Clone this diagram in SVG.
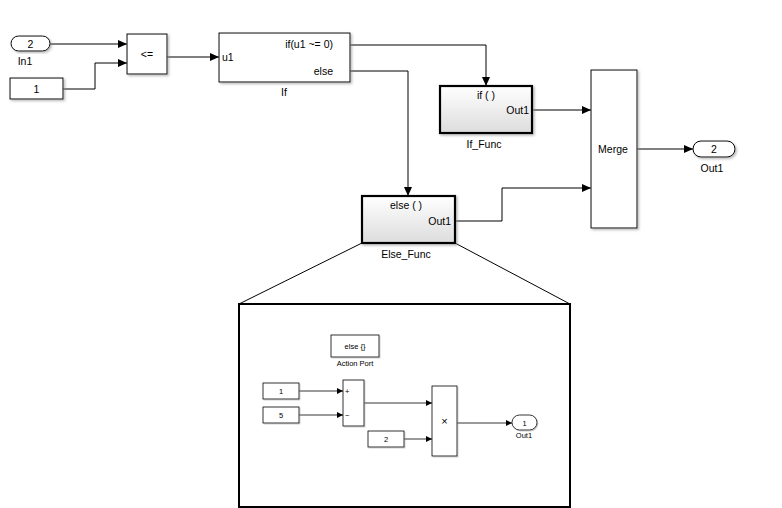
<svg xmlns="http://www.w3.org/2000/svg" width="782" height="508" viewBox="0 0 782 508">
<style>
.blk{fill:#fff;stroke:#000;stroke-width:1;filter:url(#sh)}
.sub{fill:url(#grad);stroke:#000;stroke-width:2.2;filter:url(#sh)}
.t{font-family:"Liberation Sans",Arial,sans-serif;font-size:10.5px;fill:#000}
.ts{font-family:"Liberation Sans",Arial,sans-serif;font-size:7.5px;fill:#000}
.c{text-anchor:middle}
.e{text-anchor:end}
.w{fill:none;stroke:#000;stroke-width:1}
.wa{fill:none;stroke:#000;stroke-width:1;marker-end:url(#arr)}
.was{fill:none;stroke:#000;stroke-width:0.8;marker-end:url(#arrs)}
.bs{fill:#fff;stroke:#000;stroke-width:0.8;filter:url(#sh2)}
</style>
<defs>
<linearGradient id="grad" x1="0" y1="0" x2="0" y2="1">
<stop offset="0" stop-color="#ffffff"/>
<stop offset="1" stop-color="#dcdcdc"/>
</linearGradient>
<filter id="sh" x="-10%" y="-10%" width="130%" height="130%">
<feDropShadow dx="1.5" dy="1.5" stdDeviation="0.8" flood-color="#888" flood-opacity="0.6"/>
</filter>
<filter id="sh2" x="-10%" y="-10%" width="130%" height="130%">
<feDropShadow dx="1" dy="1" stdDeviation="0.5" flood-color="#888" flood-opacity="0.5"/>
</filter>
<marker id="arr" markerUnits="userSpaceOnUse" markerWidth="10" markerHeight="10" refX="9" refY="4" orient="auto">
<path d="M0,0 L9,4 L0,8 Z" fill="#000"/>
</marker>
<marker id="arrs" markerUnits="userSpaceOnUse" markerWidth="7" markerHeight="7" refX="6" refY="3" orient="auto">
<path d="M0,0 L6,3 L0,6 Z" fill="#000"/>
</marker>
</defs>
<rect width="782" height="508" fill="#fff"/>

<g id="connectors">
<path class="wa" d="M50,44 H127"/>
<path class="wa" d="M63,89 H95 V63 H127"/>
<path class="wa" d="M167,57 H219"/>
<path class="wa" d="M350,45 H486 V86"/>
<path class="wa" d="M350,71 H408 V196"/>
<path class="wa" d="M532,110 H591"/>
<path class="wa" d="M455,221 H502 V188 H591"/>
<path class="wa" d="M637,149 H693"/>
<path class="w" d="M362,243 L239,304"/>
<path class="w" d="M455,243 L570,304"/>
<path class="was" d="M299,391 H343"/>
<path class="was" d="M299,415 H343"/>
<path class="was" d="M364,403 H432"/>
<path class="was" d="M404,439 H432"/>
<path class="was" d="M457,423 H512"/>
</g>

<g id="In1">
<rect class="blk" x="11" y="36" width="39" height="15" rx="7.5"/>
<text class="t c" x="30.5" y="47.5">2</text>
<text class="t c" x="25" y="65">In1</text>
</g>
<g id="Const1">
<rect class="blk" x="10" y="78" width="53" height="21"/>
<text class="t c" x="36.5" y="92.5">1</text>
</g>
<g id="RelOp">
<rect class="blk" x="127" y="34" width="40" height="40"/>
<text class="t c" x="147" y="58">&lt;=</text>
</g>
<g id="If">
<rect class="blk" x="219" y="33" width="131" height="49"/>
<text class="t" x="222" y="61">u1</text>
<text class="t e" x="333" y="48">if(u1 ~= 0)</text>
<text class="t e" x="333" y="75">else</text>
<text class="t c" x="284" y="96">If</text>
</g>
<g id="If_Func">
<rect class="sub" x="440" y="86" width="92" height="47"/>
<text class="t c" x="486" y="99">if ( )</text>
<text class="t e" x="529" y="114">Out1</text>
<text class="t c" x="484" y="148">If_Func</text>
</g>
<g id="Else_Func">
<rect class="sub" x="362" y="196" width="93" height="47"/>
<text class="t c" x="406" y="209">else ( )</text>
<text class="t e" x="451" y="225">Out1</text>
<text class="t c" x="406" y="258">Else_Func</text>
</g>
<g id="Merge">
<rect class="blk" x="591" y="70" width="46" height="158"/>
<text class="t c" x="613" y="153">Merge</text>
</g>
<g id="Out1">
<rect class="blk" x="693" y="141" width="42" height="16" rx="8"/>
<text class="t c" x="714" y="153">2</text>
<text class="t c" x="712" y="172">Out1</text>
</g>

<g id="Inset">
<rect x="239" y="304" width="331" height="203" fill="none" stroke="#000" stroke-width="2"/>
<g id="ActionPort">
<rect class="bs" x="331" y="335" width="48" height="22"/>
<text class="ts c" x="355" y="349">else {}</text>
<text class="ts c" x="355" y="366">Action Port</text>
</g>
<g id="In_Const1">
<rect class="bs" x="263" y="383" width="36" height="16"/>
<text class="ts c" x="281" y="394">1</text>
</g>
<g id="In_Const5">
<rect class="bs" x="263" y="407" width="36" height="16"/>
<text class="ts c" x="281" y="418">5</text>
</g>
<g id="Sum">
<rect class="bs" x="343" y="380" width="21" height="46"/>
<text class="ts" x="345" y="394">+</text>
<text class="ts" x="345" y="418">−</text>
</g>
<g id="In_Const2">
<rect class="bs" x="368" y="431" width="36" height="16"/>
<text class="ts c" x="386" y="442">2</text>
</g>
<g id="Product">
<rect class="bs" x="432" y="386" width="25" height="70"/>
<text class="ts c" x="444.5" y="425" style="font-size:11px">×</text>
</g>
<g id="In_Out1">
<rect class="bs" x="512" y="415" width="25" height="15" rx="7.5"/>
<text class="ts c" x="524.5" y="425.5">1</text>
<text class="ts c" x="524" y="438">Out1</text>
</g>
</g>
</svg>
